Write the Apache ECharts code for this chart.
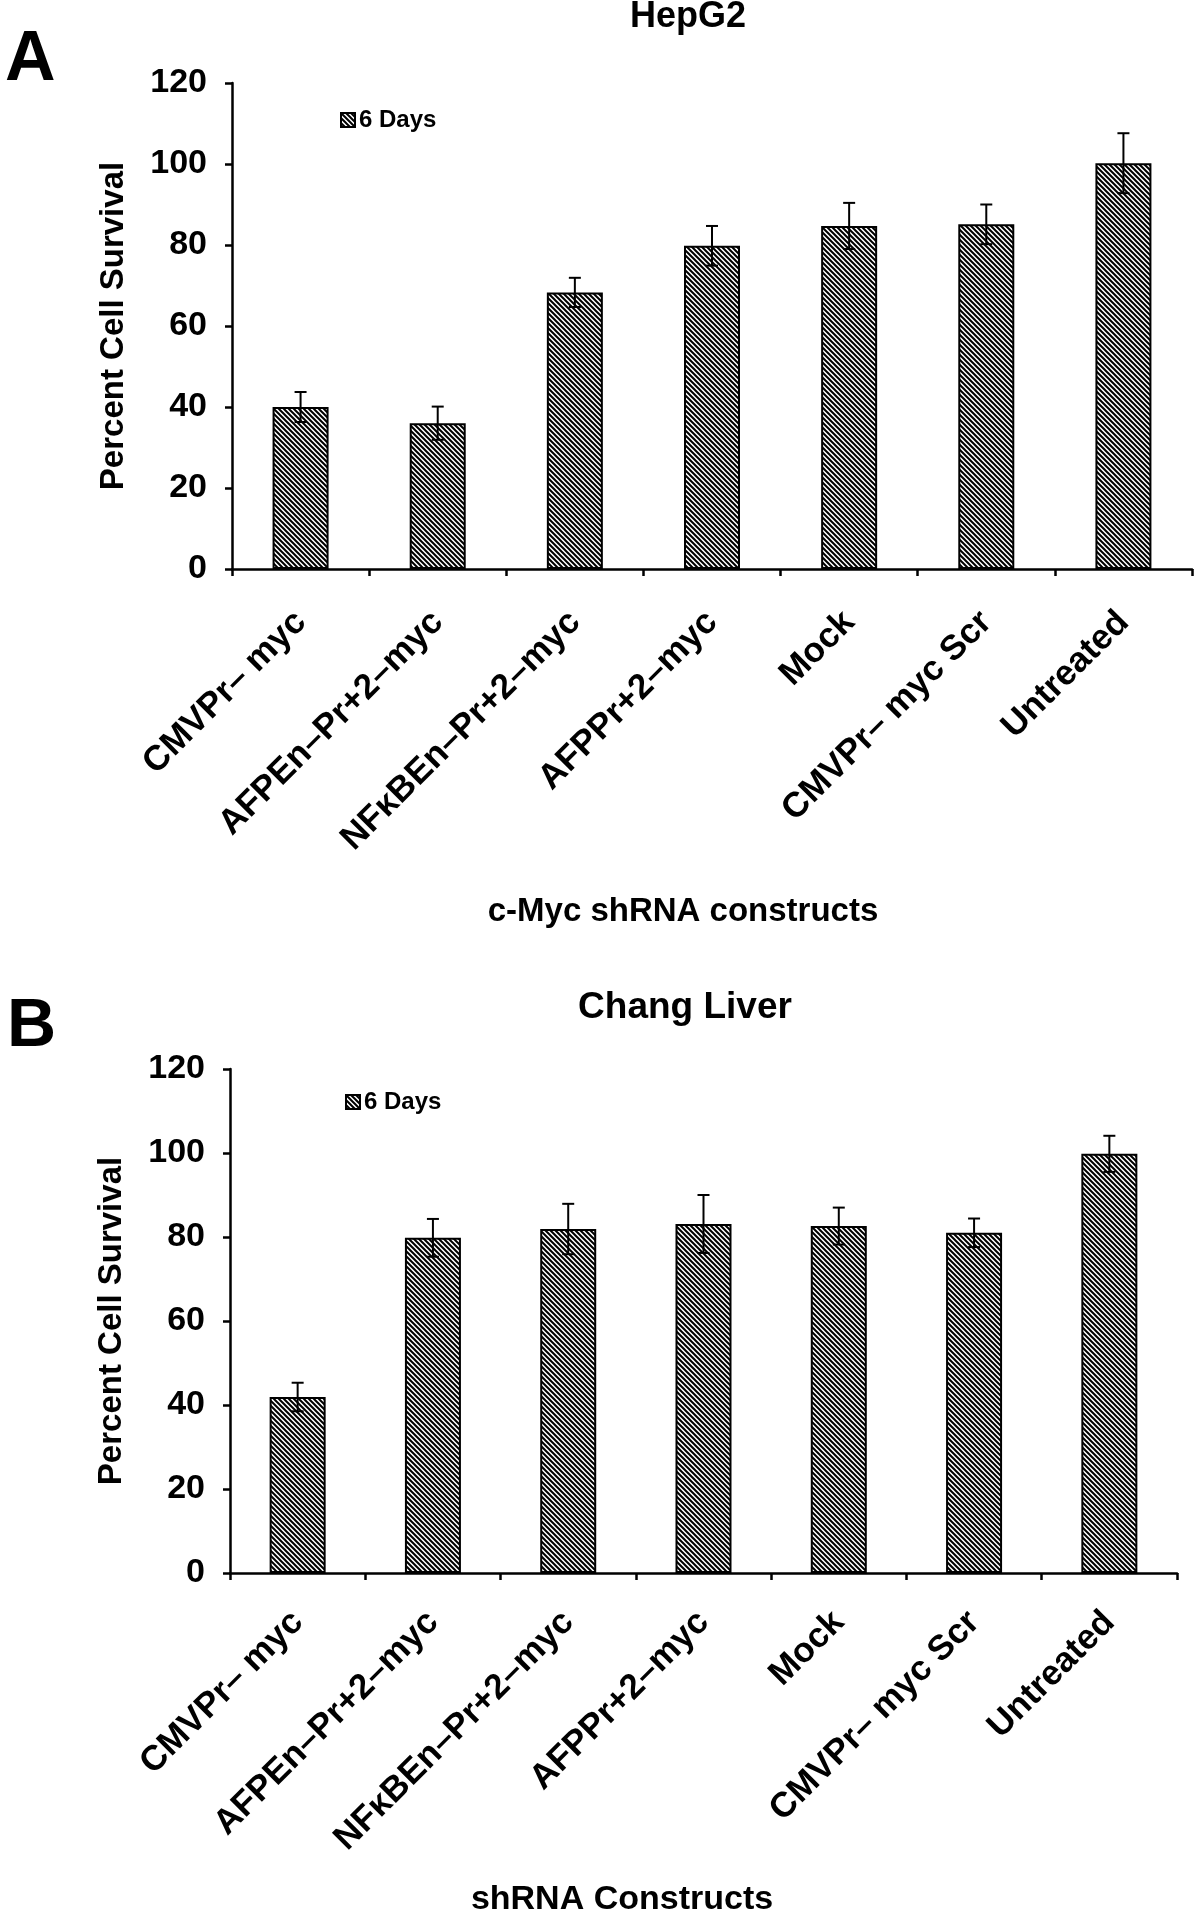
<!DOCTYPE html>
<html>
<head>
<meta charset="utf-8">
<script src="https://cdn.jsdelivr.net/npm/echarts@6/dist/echarts.min.js"></script>
<style>
  body { margin: 0; background: #fff; }
  #chart { width: 1200px; height: 1922px; }
</style>
</head>
<body>
<div id="chart"></div>
<script>
// categories (same for both panels)
const categories = ['CMVPr– myc', 'AFPEn–Pr+2–myc', 'NFκBEn–Pr+2–myc', 'AFPPr+2–myc', 'Mock', 'CMVPr– myc Scr', 'Untreated']
const yTicks = [0, 20, 40, 60, 80, 100, 120]

// panel A: HepG2
const hepg2Values = [40, 36, 68.3, 79.8, 84.7, 85.1, 100.2]
const hepg2Errors = [3.7, 4.1, 3.6, 4.9, 5.7, 4.9, 7.4]

// panel B: Chang Liver
const changValues = [41.9, 79.8, 81.9, 83.1, 82.6, 81, 99.8]
const changErrors = [3.4, 4.5, 6, 6.9, 4.4, 3.4, 4.3]

const FONT = '"Liberation Sans", Arial, sans-serif'

// diagonal hatch used for the bars
const makeHatch = () => {
  const s = 5
  const c = document.createElement('canvas')
  c.width = s
  c.height = s
  const ctx = c.getContext('2d')
  ctx.fillStyle = '#fff'
  ctx.fillRect(0, 0, s, s)
  ctx.strokeStyle = '#000'
  ctx.lineWidth = 2
  ctx.beginPath()
  for (let k = -1; k <= 1; k++) {
    ctx.moveTo(k * s - 1, -1)
    ctx.lineTo(k * s + s + 1, s + 1)
  }
  ctx.stroke()
  return c
}
const hatch = { image: makeHatch(), repeat: 'repeat' }

const errorData = (vals, errs) => vals.map((v, i) => [i, v - errs[i], v + errs[i]])

const renderError = (params, api) => {
  const lo = api.coord([api.value(0), api.value(1)])
  const hi = api.coord([api.value(0), api.value(2)])
  const cap = 6
  const style = { stroke: '#000', lineWidth: 2 }
  return {
    type: 'group',
    children: [
      { type: 'line', shape: { x1: hi[0], y1: hi[1], x2: lo[0], y2: lo[1] }, style },
      { type: 'line', shape: { x1: hi[0] - cap, y1: hi[1], x2: hi[0] + cap, y2: hi[1] }, style },
      { type: 'line', shape: { x1: lo[0] - cap, y1: lo[1], x2: lo[0] + cap, y2: lo[1] }, style }
    ]
  }
}

const axisLine = { show: true, lineStyle: { color: '#000', width: 2.5 } }
const axisTick = { show: true, length: 7, lineStyle: { color: '#000', width: 2.5 } }

const makeX = (gridIndex, margin) => ({
  type: 'category',
  gridIndex,
  data: categories,
  axisLine,
  axisTick: { ...axisTick, alignWithLabel: false },
  axisLabel: {
    interval: 0,
    rotate: 45,
    margin,
    color: '#000',
    fontFamily: FONT,
    fontSize: 35,
    fontWeight: 'bold'
  }
})

const makeY = (gridIndex) => ({
  type: 'value',
  gridIndex,
  min: yTicks[0],
  max: yTicks[yTicks.length - 1],
  interval: yTicks[1] - yTicks[0],
  splitLine: { show: false },
  axisLine,
  axisTick,
  axisLabel: { color: '#000', fontFamily: FONT, fontSize: 34, fontWeight: 'bold', margin: 25 },
  name: 'Percent Cell Survival',
  nameLocation: 'middle',
  nameRotate: 90,
  nameGap: 102,
  nameTextStyle: { color: '#000', fontFamily: FONT, fontSize: 33, fontWeight: 'bold' }
})

const barSeries = (idx, values) => ({
  name: '6 Days',
  type: 'bar',
  xAxisIndex: idx,
  yAxisIndex: idx,
  barWidth: 56,
  data: values,
  itemStyle: { color: hatch, borderColor: '#000', borderWidth: 2 },
  silent: true
})

const errSeries = (idx, values, errs) => ({
  type: 'custom',
  xAxisIndex: idx,
  yAxisIndex: idx,
  renderItem: renderError,
  data: errorData(values, errs),
  z: 5,
  silent: true
})

const legendStyle = (left, top) => ({
  data: ['6 Days'],
  left,
  top,
  icon: 'rect',
  itemWidth: 14,
  itemHeight: 14,
  itemGap: 4,
  selectedMode: false,
  textStyle: { color: '#000', fontFamily: FONT, fontSize: 24, fontWeight: 'bold', padding: [0, 0, 0, -1] }
})

const txt = (text, x, y, size, align) => ({
  type: 'text',
  x,
  y,
  style: {
    text,
    fill: '#000',
    font: `bold ${size}px ${FONT}`,
    textAlign: align || 'center',
    textVerticalAlign: 'middle'
  }
})

const chart = echarts.init(document.getElementById('chart'))
chart.setOption({
  animation: false,
  backgroundColor: '#fff',
  grid: [
    { left: 232, right: 8, top: 83, height: 486 },
    { left: 230, right: 23, top: 1069, height: 504 }
  ],
  xAxis: [makeX(0, 48), makeX(1, 44)],
  yAxis: [makeY(0), makeY(1)],
  legend: [legendStyle(335, 103), legendStyle(340, 1085)],
  series: [
    barSeries(0, hepg2Values),
    errSeries(0, hepg2Values, hepg2Errors),
    barSeries(1, changValues),
    errSeries(1, changValues, changErrors)
  ],
  graphic: [
    txt('A', 5, 61, 70, 'left'),
    txt('B', 7, 1027, 68, 'left'),
    txt('HepG2', 688, 17, 36),
    txt('Chang Liver', 685, 1008, 37),
    txt('c-Myc shRNA constructs', 683, 912, 33),
    txt('shRNA Constructs', 622, 1900, 34)
  ]
})
</script>
</body>
</html>
